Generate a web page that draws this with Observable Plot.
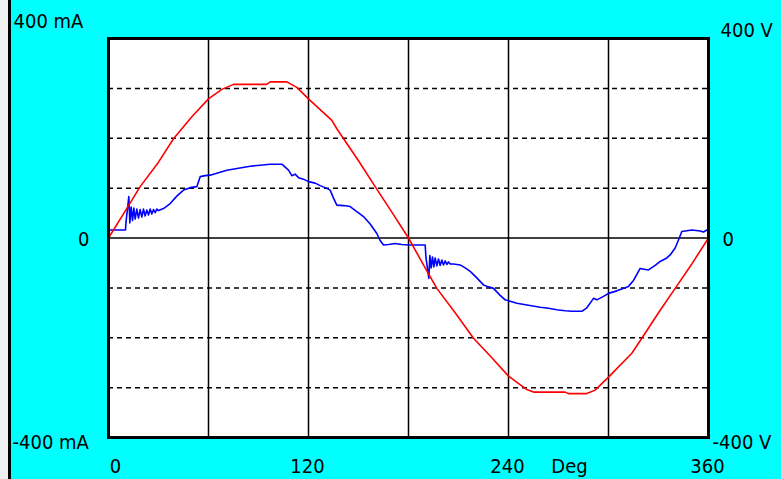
<!DOCTYPE html>
<html>
<head>
<meta charset="utf-8">
<script src="https://cdn.jsdelivr.net/npm/d3@7"></script>
<script src="https://cdn.jsdelivr.net/npm/@observablehq/plot@0.6"></script>
<style>
  html, body { margin: 0; padding: 0; background: #f0f0f0; overflow: hidden; }
  #wrap { margin-left: 8px; border-left: 3px solid #000; width: 770px; height: 479px; background: #00ffff; }
  #wrap svg { display: block; background: #00ffff; }
</style>
</head>
<body>
<div id="wrap"></div>
<script>
// Voltage trace (red), degrees and volts
const vDeg = [0,10,19,30,39,50,60,68,75,95,97,107,113,120,134,137,150,160,170,180,190,197,208,219,230,240,251,255,274,276,287,292,300,314,320,330,340,350,360];
const vVal = [0,54,103,152,199,243,279,298,308,308,313,313,302,279,236,219,155,103,52,0,-60,-101,-150,-201,-240,-277,-304,-309,-309,-312,-312,-305,-279,-231,-201,-150,-101,-52,0];

// Current trace (blue), degrees and mA
const iDeg = [0,10.2,10.5,12.2,12.8,13.6,14.4,15.2,16,17,18,19,20,21,22,23,24,25,26,27,28,29,30,33,37,41,45,49,53,55,58,61,66,71,78,85,91,97,104,108,110,112,114,117,120,124,127,130,133,135,137,141,145,149,153,157,161,163,165,168,172,176,180,190,190.5,192.2,192.8,193.6,194.4,195.2,196,197,198,199,200,201,202,203,204,205,207,211,214,217,221,225,228,231,235,238,241,245,252,259,264,269,274,278,284,287,291,293,297,300,305,312,315,319,324,328,331,335,337,340,342,344,350,355,357,359,360];
const iVal = [16,16,32,83,30,62,35,60,38,58,40,57,42,58,44,56,46,58,48,57,51,58,55,59,69,84,96,101,103,123,125,126,131,136,140,144,146,148,148,136,125,128,121,118,113,110,105,101,96,80,66,65,63,53,43,28,9,-5,-14,-13,-11,-13,-14,-14,-40,-81,-35,-60,-38,-58,-40,-56,-42,-55,-44,-54,-46,-53,-48,-52,-52,-54,-60,-67,-80,-94,-98,-101,-115,-124,-127,-131,-135,-139,-141,-144,-146,-147,-147,-140,-121,-124,-117,-111,-106,-97,-85,-61,-64,-55,-47,-40,-34,-20,-4,13,16,14,12,16,14];

// Grid and tick labels
const vGrid = [60,120,180,240,300];
const hGrid = [-300,-200,-100,100,200,300];
const xTicks = [0,120,240,360];
const xTickLabels = ["0","120","240","360"];
const xUnit = "Deg";
const leftLabels = ["400 mA","0","-400 mA"];
const rightLabels = ["400 V","0","-400 V"];
const yLabelVals = [400,0,-400];

const voltage = vDeg.map((d,i) => ({deg:d, v:vVal[i]}));
const current = iDeg.map((d,i) => ({deg:d, v:iVal[i]}));

const font = "'Liberation Sans Narrow','Arial Narrow','DejaVu Sans Condensed',sans-serif";
const fs = 20;

const leftData = leftLabels.map((t,i) => ({t, y:yLabelVals[i]}));
const rightData = rightLabels.map((t,i) => ({t, y:yLabelVals[i]}));
const bottomData = xTickLabels.map((t,i) => ({t, x:xTicks[i]}));

const chart = Plot.plot({
  width: 770,
  height: 479,
  marginLeft: 97,
  marginRight: 73,
  marginTop: 38,
  marginBottom: 42,
  style: {background: "#00ffff", fontFamily: font, fontSize: fs + "px", overflow: "visible"},
  x: {domain: [0,360], axis: null},
  y: {domain: [-400,400], axis: null},
  marks: [
    Plot.frame({fill: "white", stroke: null}),
    Plot.ruleX(vGrid, {stroke: "black", strokeWidth: 1.5}),
    Plot.ruleY(hGrid, {stroke: "black", strokeWidth: 1.5, strokeDasharray: "5,4"}),
    Plot.ruleY([0], {stroke: "black", strokeWidth: 1.5}),
    Plot.line(current, {x: "deg", y: "v", stroke: "#0000ff", strokeWidth: 1.6}),
    Plot.line(voltage, {x: "deg", y: "v", stroke: "#ff0000", strokeWidth: 1.6}),
    Plot.frame({stroke: "black", strokeWidth: 3}),
    // left labels
    Plot.text(leftData.filter(d => d.y === 400), {x: () => 0, y: "y", text: "t", textAnchor: "start", dx: -95, dy: -17, fill: "black", fontSize: fs}),
    Plot.text(leftData.filter(d => d.y === 0), {x: () => 0, y: "y", text: "t", textAnchor: "end", dx: -19, dy: 2, fill: "black", fontSize: fs}),
    Plot.text(leftData.filter(d => d.y === -400), {x: () => 0, y: "y", text: "t", textAnchor: "start", dx: -96, dy: 5, fill: "black", fontSize: fs}),
    // right labels
    Plot.text(rightData.filter(d => d.y === 400), {x: () => 360, y: "y", text: "t", textAnchor: "start", dx: 12, dy: -8, fill: "black", fontSize: fs}),
    Plot.text(rightData.filter(d => d.y === 0), {x: () => 360, y: "y", text: "t", textAnchor: "start", dx: 14, dy: 2, fill: "black", fontSize: fs}),
    Plot.text(rightData.filter(d => d.y === -400), {x: () => 360, y: "y", text: "t", textAnchor: "start", dx: 4, dy: 5, fill: "black", fontSize: fs}),
    // bottom labels
    Plot.text(bottomData.filter(d => d.x === 0), {x: "x", y: () => -400, text: "t", dx: 7, dy: 29, fill: "black", fontSize: fs}),
    Plot.text(bottomData.filter(d => d.x !== 0), {x: "x", y: () => -400, text: "t", dx: -1, dy: 29, fill: "black", fontSize: fs}),
    Plot.text([xUnit], {x: () => 240, y: () => -400, text: d => d, dx: 61, dy: 29, fill: "black", fontSize: fs})
  ]
});
document.getElementById("wrap").appendChild(chart);
</script>
</body>
</html>
